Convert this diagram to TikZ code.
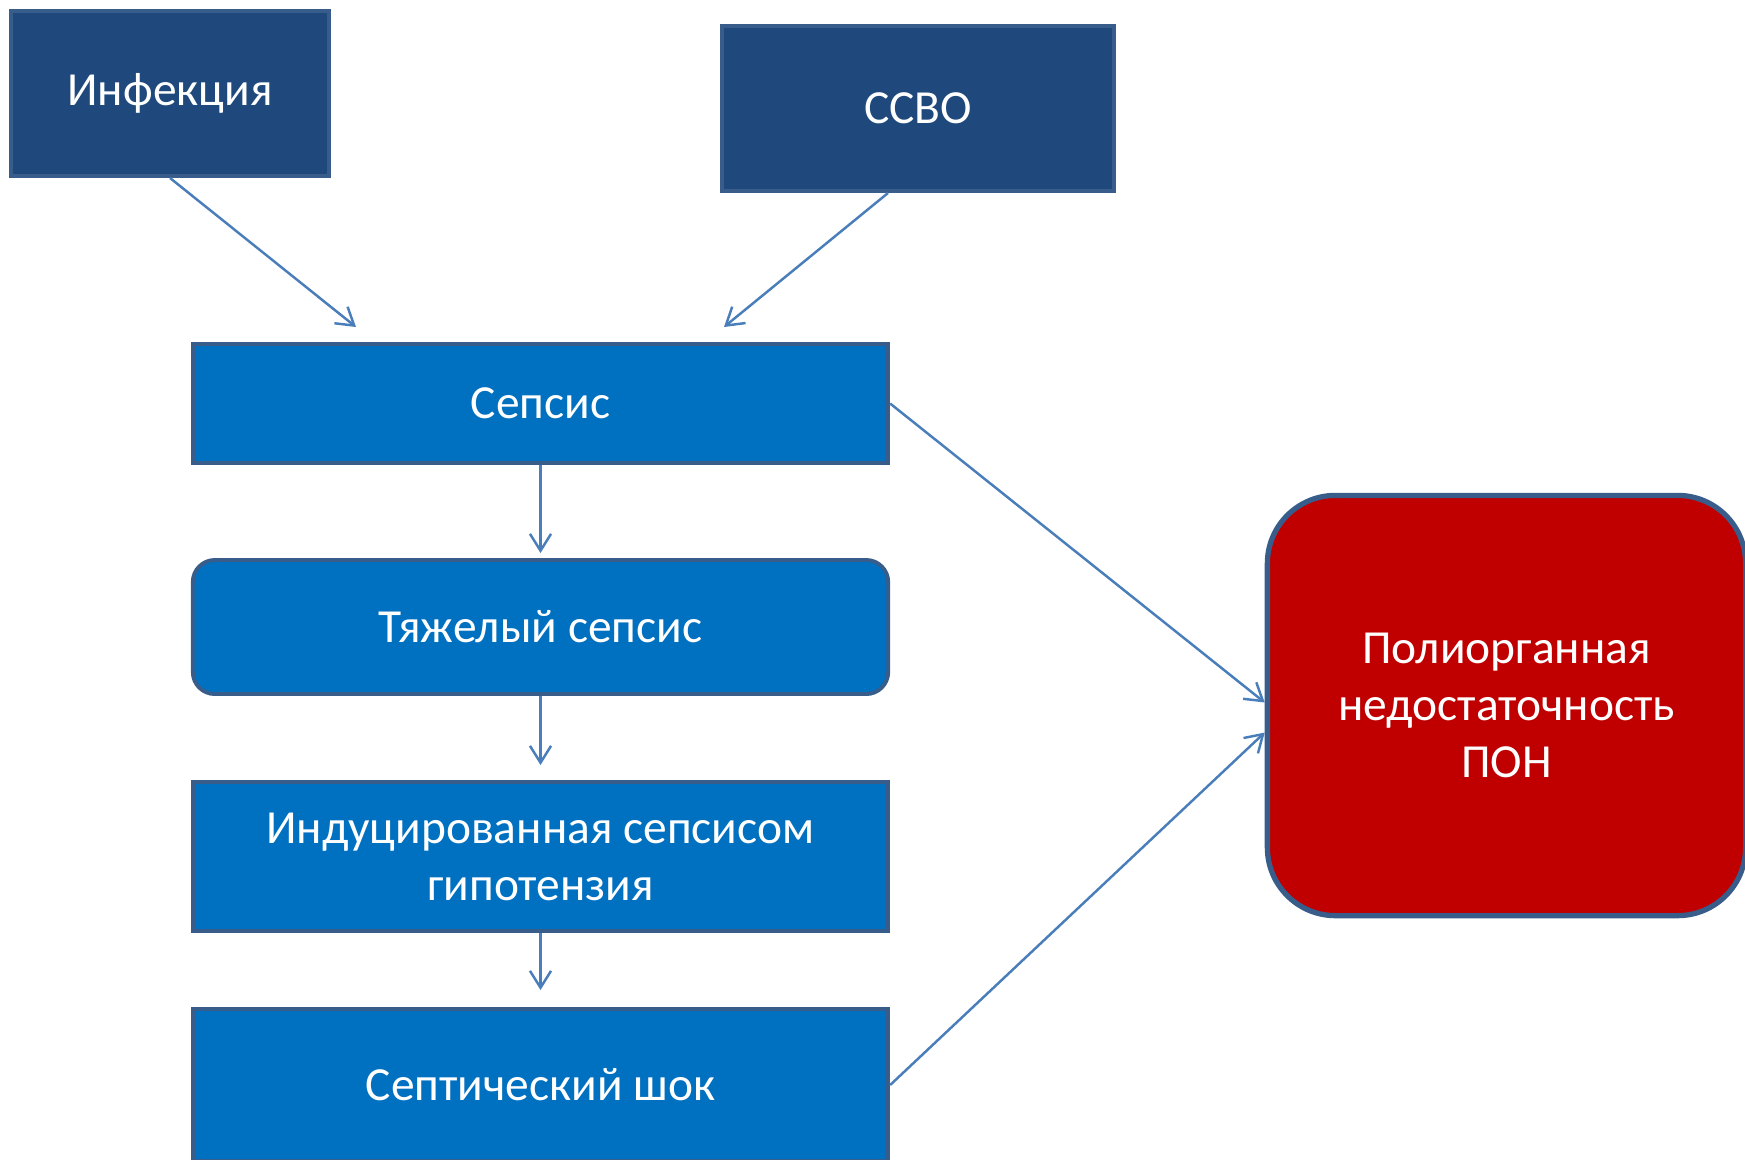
\documentclass[tikz,border=0pt]{standalone}
\usepackage{fontspec}
\setmainfont{Carlito}
\usepackage{tikz}
\usetikzlibrary{arrows.meta, calc, positioning}
\definecolor{darkbox}{HTML}{1F497D}
\definecolor{midbox}{HTML}{0070C0}
\definecolor{redbox}{HTML}{C00000}
\definecolor{edgeblue}{HTML}{385D8A}
\definecolor{linkblue}{HTML}{4A7EBB}

\begin{document}
\begin{tikzpicture}[x=0.01cm, y=-0.01cm,
		box/.style={draw=edgeblue, line width=1.1pt, text=white, align=center,
			font=\fontsize{13.5}{16.2}\selectfont, inner sep=0pt},
		topbox/.style={box, fill=darkbox},
		stagebox/.style={box, fill=midbox, minimum width=6.95cm},
		link/.style={draw=linkblue, line width=0.7pt, -{Straight Barb[length=4.8pt, width=6pt]}}]
	\useasboundingbox (0,0) rectangle (1745,1159);
	% upper boxes
	\node[topbox, minimum width=3.18cm, minimum height=1.65cm] (infect) at (170,93.5) {Инфекция};
	\node[topbox, minimum width=3.92cm, minimum height=1.65cm] (ssvo) at (918,108.5) {ССВО};
	% stages of sepsis
	\node[stagebox, minimum height=1.19cm] (sepsis) at (540.5,403.5) {Сепсис};
	\node[stagebox, minimum height=1.34cm, rounded corners=0.22cm] (severe) at (540.5,627) {Тяжелый сепсис};
	\node[stagebox, minimum height=1.49cm] (hypot) at (540.5,856.5) {Индуцированная сепсисом\\гипотензия};
	\node[stagebox, minimum height=1.52cm] (shock) at (540.5,1085) {Септический шок};
	% organ failure
	\node[box, fill=redbox, line width=1.5pt, minimum width=4.78cm, minimum height=4.2cm,
		rounded corners=0.68cm] (pon) at (1506.5,705.5) {Полиорганная\\недостаточность\\ПОН};
	% arrow ends
	\coordinate (ssvoout) at ($(ssvo.south)+(-30,0)$);
	\coordinate (sepsisinl) at (356,327);
	\coordinate (sepsisinr) at (724,327);
	\draw[link] (infect.south) -- (sepsisinl);
	\draw[link] (ssvoout) -- (sepsisinr);
	\draw[link] (sepsis.south) -- ($(severe.north)+(0,-5)$);
	\draw[link] (severe.south) -- ($(hypot.north)+(0,-15)$);
	\draw[link] (hypot.south) -- ($(shock.north)+(0,-17)$);
	\draw[link] (sepsis.east) -- ($(pon.west)+(0,-3)$);
	\draw[link] (shock.east) -- ($(pon.west)+(0,27)$);
\end{tikzpicture}
\end{document}
